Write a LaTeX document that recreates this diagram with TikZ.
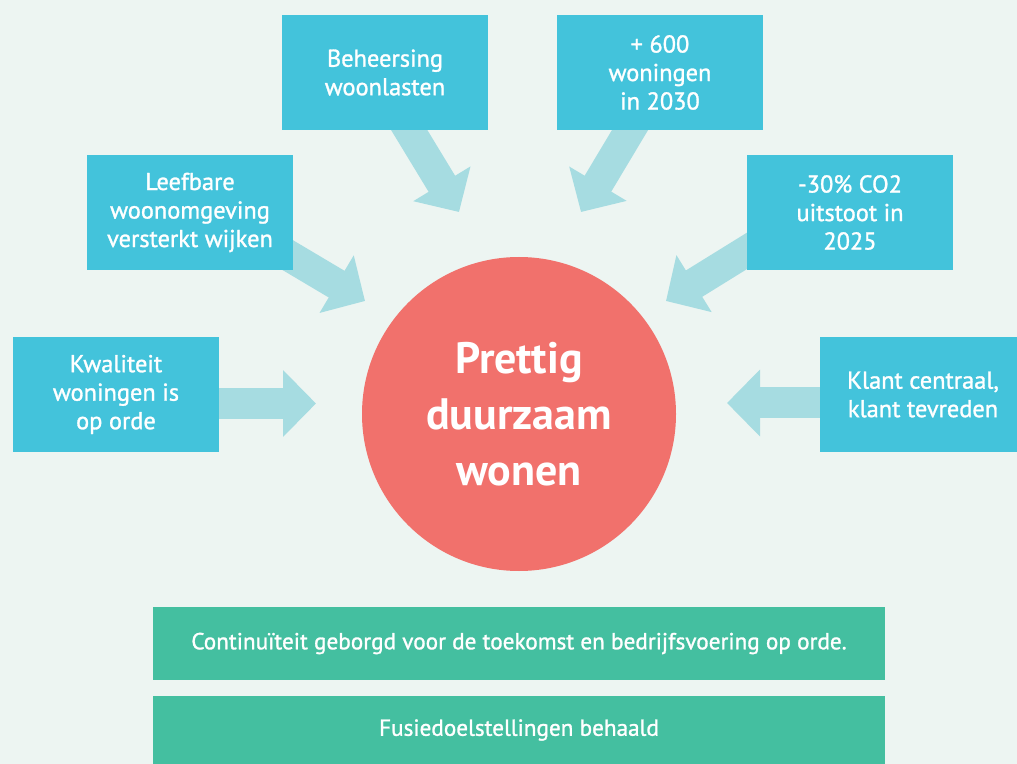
\documentclass[tikz,border=0pt]{standalone}
\usepackage{fontspec}
\setmainfont{PT Sans}
\newfontfamily\doelfont[FakeBold=1.2]{PT Sans}
\usepackage{tikz}
\usetikzlibrary{arrows.meta,backgrounds,positioning}
\definecolor{achtergrond}{HTML}{EDF5F2}
\definecolor{doelblauw}{HTML}{43C3DB}
\definecolor{pijlblauw}{HTML}{A6DCE1}
\definecolor{kernrood}{HTML}{F1716C}
\definecolor{basisgroen}{HTML}{44BFA0}

\begin{document}
\begin{tikzpicture}[x=0.5pt,y=-0.5pt,
	doel/.style={fill=doelblauw,text=white,minimum width=103pt,minimum height=57.5pt,inner sep=0pt,align=center,font=\doelfont\fontsize{12.2}{14.25}\selectfont},
	basis/.style={fill=basisgroen,text=white,minimum width=366pt,inner sep=0pt,align=center,font=\doelfont\fontsize{11.6}{14}\selectfont},
	pijl/.style={pijlblauw,line width=15.5pt,-{Triangle[length=16.5pt,width=32.5pt]}}]
	\useasboundingbox (0,0) rectangle (1017,764);
	\node[circle,fill=kernrood,text=white,minimum size=157pt,inner sep=0pt,align=center,font=\fontsize{22}{28}\selectfont\bfseries] (kern) at (519,414) {Prettig\\duurzaam\\wonen};
	\node[doel] (behe) at (385,72.5) {Beheersing\\woonlasten};
	\node[doel] (groei) at (660,72.5) {+ 600\\woningen\\in 2030};
	\node[doel] (leef) at (190,212.5) {Leefbare\\woonomgeving\\versterkt wijken};
	\node[doel] (co2) at (850,212.5) {-30\% CO2\\uitstoot in\\2025};
	\node[doel] (kwal) at (116,394.5) {Kwaliteit\\woningen is\\op orde};
	\node[doel] (klant) at (923,394.5) {Klant centraal,\\klant tevreden};
	\node[basis,minimum height=36.5pt] (cont) at (519,643.5) {Continuïteit geborgd voor de toekomst en bedrijfsvoering op orde.};
	\node[basis,minimum height=34pt] (fusie) at (519,730) {Fusiedoelstellingen behaald};
	\coordinate (behe-pt) at (459,212);
	\coordinate (groei-pt) at (581,212);
	\coordinate (leef-pt) at (365,301);
	\coordinate (co2-pt) at (666,301);
	\coordinate (kwal-pt) at (316,403.5);
	\coordinate (klant-pt) at (727,403);
	\begin{scope}[on background layer]
		\fill[achtergrond] (0,0) rectangle (1017,764);
		\draw[pijl] (394,105) -- (behe-pt);
		\draw[pijl] (645,105) -- (groei-pt);
		\draw[pijl] (264,241) -- (leef-pt);
		\draw[pijl] (771,236) -- (co2-pt);
		\draw[pijl] (kwal.center |- kwal-pt) -- (kwal-pt);
		\draw[pijl] (klant.center |- klant-pt) -- (klant-pt);
	\end{scope}
\end{tikzpicture}
\end{document}
